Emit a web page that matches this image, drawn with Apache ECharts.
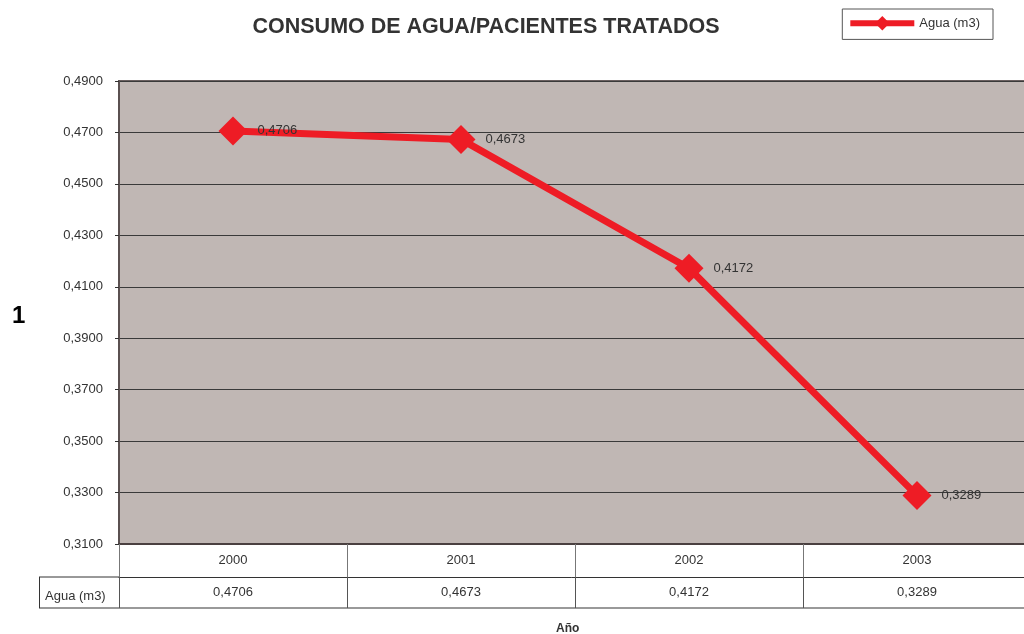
<!DOCTYPE html>
<html>
<head>
<meta charset="utf-8">
<title>Consumo de agua</title>
<script src="https://cdn.jsdelivr.net/npm/echarts@6/dist/echarts.min.js"></script>
<style>
  html, body { margin: 0; padding: 0; background: #fff; }
  #main { width: 1024px; height: 634px; }
</style>
</head>
<body>
<div id="main"></div>
<script>
// datos
var years = ['2000', '2001', '2002', '2003'];
var agua = [0.4706, 0.4673, 0.4172, 0.3289];
var yMin = 0.31, yMax = 0.49, yStep = 0.02;

function fmt(v) {
  return Number(v).toFixed(4).replace('.', ',');
}

var font = 'Liberation Sans, Arial, sans-serif';
var red = '#ee1c25';

var chart = echarts.init(document.getElementById('main'));
chart.setOption({
  animation: false,
  textStyle: { fontFamily: font },
  title: {
    text: 'CONSUMO DE AGUA/PACIENTES TRATADOS',
    left: 481,
    textAlign: 'center',
    top: 11,
    textStyle: { fontSize: 21.5, fontWeight: 'bold', color: '#333', fontFamily: font }
  },
  legend: {
    right: 31,
    top: 9,
    padding: [7, 13, 9, 5],
    borderColor: '#555',
    borderWidth: 1,
    itemWidth: 64,
    itemHeight: 18,
    itemGap: 5,
    lineStyle: { width: 6 },
    textStyle: { fontSize: 13, color: '#333', fontFamily: font },
    data: ['Agua (m3)']
  },
  // el area de trazado sigue mas alla del borde derecho
  grid: {
    left: 119,
    top: 81,
    width: 912,
    height: 463,
    outerBoundsMode: 'none',
    show: true,
    backgroundColor: '#c0b7b4',
    borderColor: '#6a6060',
    borderWidth: 2
  },
  xAxis: [{
    type: 'category',
    data: years,
    position: 'bottom',
    axisLine: { lineStyle: { color: '#4a4040', width: 2 } },
    axisTick: { show: true, length: 33, lineStyle: { color: '#777' } },
    axisLabel: { margin: 10, color: '#333', fontSize: 13 }
  }, {
    type: 'category',
    data: agua.map(fmt),
    position: 'bottom',
    offset: 33,
    axisLine: { show: true, lineStyle: { color: '#333', width: 1 } },
    axisTick: { show: true, length: 31, lineStyle: { color: '#555' } },
    axisLabel: { margin: 9, color: '#333', fontSize: 13 }
  }],
  yAxis: {
    type: 'value',
    min: yMin,
    max: yMax,
    interval: yStep,
    axisLine: { show: true, lineStyle: { color: '#5a5050', width: 2 } },
    axisTick: { show: true, length: 4, lineStyle: { color: '#333' } },
    axisLabel: { margin: 16, color: '#333', fontSize: 13, formatter: fmt },
    splitLine: { show: true, lineStyle: { color: '#3a3a3a', width: 1 } }
  },
  series: [{
    name: 'Agua (m3)',
    type: 'line',
    data: agua,
    symbol: 'diamond',
    symbolSize: 29,
    lineStyle: { color: red, width: 7 },
    itemStyle: { color: red },
    label: {
      show: true,
      position: 'right',
      distance: 10,
      formatter: function (p) { return fmt(p.value); },
      color: '#333',
      fontSize: 13
    }
  }],
  graphic: [
    // celda "Agua (m3)" de la tabla de datos
    { type: 'line', shape: { x1: 39, y1: 577, x2: 119, y2: 577 }, style: { stroke: '#333', lineWidth: 1 } },
    { type: 'line', shape: { x1: 39, y1: 608, x2: 1024, y2: 608 }, style: { stroke: '#999', lineWidth: 2 } },
    { type: 'line', shape: { x1: 39.5, y1: 577, x2: 39.5, y2: 608 }, style: { stroke: '#333', lineWidth: 1 } },
    { type: 'text', left: 45, top: 590, style: { text: 'Agua (m3)', fill: '#333', font: '13px ' + font } },
    { type: 'text', left: 556, top: 623, style: { text: 'Año', fill: '#333', font: 'bold 12px ' + font } },
    { type: 'text', left: 12, top: 304, style: { text: '1', fill: '#000', font: 'bold 24px ' + font } }
  ]
});
</script>
</body>
</html>
